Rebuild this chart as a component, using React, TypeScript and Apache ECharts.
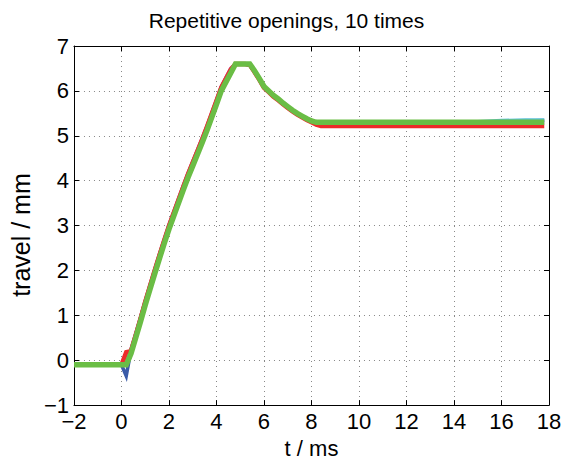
import React, { useEffect, useRef } from "react";
import * as echarts from "echarts";

const titleText = "Repetitive openings, 10 times";
const xName = "t / ms";
const yName = "travel / mm";

const timeMs = [
  -2, -1, 0,
  0.2, 0.4, 0.6, 0.8, 1.0, 1.2, 1.4, 1.6, 1.8, 2.0,
  2.2, 2.4, 2.6, 2.8, 3.0, 3.2, 3.4, 3.6, 3.8, 4.0,
  4.2, 4.4, 4.6, 4.8, 5.0, 5.2, 5.4, 5.6, 5.8, 6.0,
  6.2, 6.4, 6.6, 6.8, 7.0, 7.2, 7.4, 7.6, 7.8, 8.0,
  8.2, 8.4, 8.6,
  9, 10, 11, 12, 13, 14, 15, 16, 17, 17.8,
];

const travelBlue = [
  -0.1, -0.1, -0.1,
  -0.35, 0.22, 0.58, 0.94, 1.31, 1.66, 2.01, 2.35, 2.68, 3.0,
  3.29, 3.58, 3.87, 4.15, 4.41, 4.67, 4.93, 5.2, 5.49, 5.78,
  6.08, 6.28, 6.48, 6.6, 6.6, 6.6, 6.57, 6.42, 6.26, 6.08,
  5.98, 5.88, 5.8, 5.71, 5.63, 5.55, 5.48, 5.42, 5.36, 5.32,
  5.3, 5.3, 5.28,
  5.3, 5.3, 5.3, 5.3, 5.3, 5.3, 5.3, 5.32, 5.33, 5.34,
];

const travelMagenta = [
  -0.1, -0.1, -0.1,
  0.0, 0.25, 0.6, 0.96, 1.33, 1.68, 2.03, 2.37, 2.7, 3.02,
  3.31, 3.6, 3.89, 4.17, 4.43, 4.69, 4.95, 5.22, 5.51, 5.8,
  6.1, 6.3, 6.5, 6.6, 6.6, 6.6, 6.57, 6.43, 6.27, 6.09,
  5.99, 5.89, 5.8, 5.72, 5.63, 5.56, 5.49, 5.42, 5.37, 5.32,
  5.3, 5.3, 5.3,
  5.3, 5.3, 5.3, 5.3, 5.3, 5.3, 5.3, 5.3, 5.3, 5.3,
];

const travelCyan = [
  -0.1, -0.1, -0.1,
  -0.05, 0.2, 0.56, 0.92, 1.29, 1.64, 1.99, 2.33, 2.66, 2.98,
  3.27, 3.56, 3.85, 4.13, 4.39, 4.65, 4.91, 5.18, 5.47, 5.76,
  6.06, 6.26, 6.46, 6.6, 6.6, 6.6, 6.58, 6.44, 6.28, 6.1,
  6.0, 5.9, 5.81, 5.72, 5.64, 5.56, 5.49, 5.43, 5.37, 5.33,
  5.3, 5.3, 5.3,
  5.3, 5.3, 5.3, 5.3, 5.3, 5.3, 5.31, 5.34, 5.35, 5.35,
];

const travelRed = [
  -0.1, -0.1, -0.1,
  0.18, 0.2, 0.55, 0.92, 1.3, 1.65, 2.0, 2.34, 2.67, 2.99,
  3.28, 3.57, 3.86, 4.14, 4.4, 4.66, 4.92, 5.2, 5.49, 5.78,
  6.07, 6.27, 6.47, 6.6, 6.6, 6.6, 6.58, 6.42, 6.25, 6.07,
  5.97, 5.87, 5.79, 5.7, 5.62, 5.54, 5.47, 5.41, 5.35, 5.3,
  5.25, 5.22, 5.22,
  5.22, 5.22, 5.22, 5.22, 5.22, 5.22, 5.22, 5.22, 5.22, 5.22,
];

const travelGreen = [
  -0.1, -0.1, -0.1,
  -0.1, 0.15, 0.5, 0.86, 1.23, 1.58, 1.93, 2.27, 2.6, 2.92,
  3.21, 3.5, 3.79, 4.07, 4.33, 4.59, 4.85, 5.12, 5.41, 5.7,
  6.0, 6.2, 6.4, 6.6, 6.6, 6.6, 6.6, 6.45, 6.28, 6.1,
  6.0, 5.9, 5.82, 5.73, 5.65, 5.57, 5.5, 5.44, 5.38, 5.33,
  5.3, 5.3, 5.3,
  5.3, 5.3, 5.3, 5.3, 5.3, 5.3, 5.3, 5.3, 5.3, 5.3,
];

const traces = [
  { name: "run 1", values: travelBlue, color: "#3a5ba8", width: 3.5 },
  { name: "run 2", values: travelMagenta, color: "#c94fa8", width: 3.5 },
  { name: "run 3", values: travelCyan, color: "#5bc0d8", width: 3.5 },
  { name: "run 4", values: travelRed, color: "#ee2a2a", width: 4.5 },
  { name: "run 5", values: travelGreen, color: "#6abd45", width: 5.5 },
];

const FONT = "Liberation Sans, Arial, Helvetica, sans-serif";
const fmt = (v: number) => String(v).replace("-", "\u2212");

export default function App() {
  const ref = useRef<HTMLDivElement>(null);
  useEffect(() => {
    if (!ref.current) return;
    const chart = echarts.init(ref.current, null, { renderer: "svg" });
    const axisCommon = {
      type: "value" as const,
      axisLine: { show: true, onZero: false, lineStyle: { color: "#000", width: 1 } },
      axisTick: { show: true, inside: true, length: 5, lineStyle: { color: "#000" } },
    };
    chart.setOption({
      animation: false,
      backgroundColor: "#fff",
      title: {
        text: titleText,
        left: "center",
        top: 5,
        textStyle: { fontFamily: FONT, fontSize: 21, fontWeight: "normal", color: "#000" },
      },
      grid: { left: 72, right: 24, top: 46, bottom: 54 },
      xAxis: [
        {
          ...axisCommon,
          position: "bottom",
          min: -2,
          max: 18,
          interval: 2,
          name: xName,
          nameLocation: "middle",
          nameGap: 29,
          nameTextStyle: { fontFamily: FONT, fontSize: 22, color: "#000" },
          axisLabel: { formatter: fmt, fontFamily: FONT, fontSize: 22, color: "#000", margin: 5 },
          splitLine: { show: true, lineStyle: { color: "#888", type: [1, 4], width: 1 } },
        },
        {
          ...axisCommon,
          position: "top",
          min: -2,
          max: 18,
          interval: 2,
          axisLabel: { show: false },
          splitLine: { show: false },
        },
      ],
      yAxis: [
        {
          ...axisCommon,
          position: "left",
          min: -1,
          max: 7,
          interval: 1,
          name: yName,
          nameLocation: "middle",
          nameGap: 38,
          nameTextStyle: {
            fontFamily: FONT,
            fontSize: 25,
            color: "#000",
            padding: [0, 19, 0, 0],
          },
          axisLabel: { formatter: fmt, fontFamily: FONT, fontSize: 22, color: "#000", margin: 5 },
          splitLine: { show: true, lineStyle: { color: "#888", type: [1, 4], width: 1 } },
        },
        {
          ...axisCommon,
          position: "right",
          min: -1,
          max: 7,
          interval: 1,
          axisLabel: { show: false },
          splitLine: { show: false },
        },
      ],
      series: traces.map((tr, i) => ({
        name: tr.name,
        type: "line",
        xAxisIndex: 0,
        yAxisIndex: 0,
        showSymbol: false,
        z: 2 + i,
        lineStyle: { color: tr.color, width: tr.width, cap: "butt", join: "miter" },
        itemStyle: { color: tr.color },
        data: timeMs.map((t, k) => [t, tr.values[k]]),
      })),
    });
    return () => chart.dispose();
  }, []);
  return (
    <div
      ref={ref}
      style={{ position: "fixed", left: 0, top: 0, width: 573, height: 464 }}
    />
  );
}
